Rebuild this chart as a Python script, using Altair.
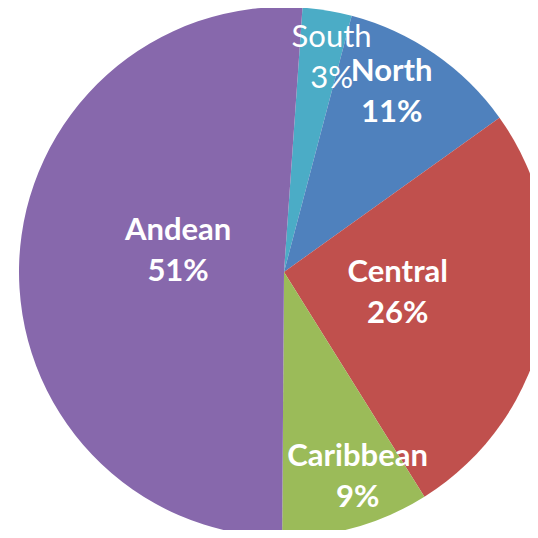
import math
import altair as alt
import pandas as pd

regions = ["South", "North", "Central", "Caribbean", "Andean"]
shares = [3, 11, 26, 9, 51]
colors = ["#4BACC6", "#4F81BD", "#C0504D", "#9BBB59", "#8768AC"]
labels = ["South\n3%", "North\n11%", "Central\n26%", "Caribbean\n9%", "Andean\n51%"]

df = pd.DataFrame({"region": regions, "share": shares, "label": labels,
                   "idx": list(range(len(regions)))})

start = 4 * math.pi / 180
theta_scale = alt.Scale(domain=[0, 100], range=[start, start + 2 * math.pi])
CX, CY, R = 276, 264, 265

base = alt.Chart(df).transform_window(
    cum="sum(share)", sort=[alt.SortField("idx")], frame=[None, 0]
).transform_calculate(
    s0="datum.cum - datum.share", mid="datum.cum - datum.share / 2"
)

arcs = base.mark_arc(outerRadius=R, stroke=None).encode(
    theta=alt.Theta("s0:Q", scale=theta_scale),
    theta2="cum:Q",
    color=alt.Color("region:N", scale=alt.Scale(domain=regions, range=colors), legend=None),
    x=alt.value(CX), y=alt.value(CY),
)

LH = 41
# per-label placement: radius, dx, dy, weight
place = {
    "South": (218, 12, 2, "normal"),
    "North": (209, -11, -7, "bold"),
    "Central": (116, 0, -1, "bold"),
    "Caribbean": (219, 14, -5, "bold"),
    "Andean": (108, 2, -16, "bold"),
}

layers = [arcs]
for reg in regions:
    r, dx, dy, w = place[reg]
    layers.append(
        base.transform_filter(alt.datum.region == reg).mark_text(
            font="Lato", fontSize=31, fontWeight=w, color="white",
            lineBreak="\n", lineHeight=LH, align="center", baseline="middle",
            dx=dx, dy=dy - LH / 2,
        ).encode(
            theta=alt.Theta("mid:Q", scale=theta_scale),
            radius=alt.value(r),
            x=alt.value(CX), y=alt.value(CY),
            text="label:N",
        )
    )

chart = alt.layer(*layers).properties(
    width=522, height=522, padding=0, autosize="none"
).configure_view(stroke=None)

chart.save("out.html", embed_options={"renderer": "svg", "actions": False})
